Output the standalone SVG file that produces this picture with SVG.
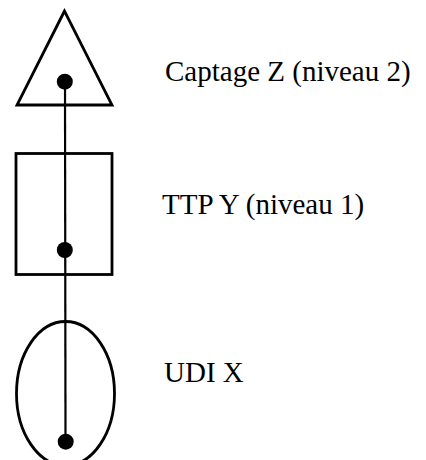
<svg xmlns="http://www.w3.org/2000/svg" width="426" height="460" viewBox="0 0 426 460">
<style>
.shape{fill:none;stroke:#000;stroke-width:2.8}
.conn{stroke:#000;stroke-width:2.2;fill:none}
.dot{fill:#000}
.lbl{font-family:"Liberation Serif","Times New Roman",serif;font-size:29px;fill:#000}
</style>
<rect width="426" height="460" fill="#fff"/>
<g id="captage">
<polygon class="shape" points="64.5,11 17,105 112,105"/>
<text class="lbl" x="165" y="81">Captage Z (niveau 2)</text>
</g>
<g id="ttp">
<rect class="shape" x="16" y="153.5" width="96" height="121"/>
<text class="lbl" x="162" y="214">TTP Y (niveau 1)</text>
</g>
<g id="udi">
<ellipse class="shape" cx="65.5" cy="393.5" rx="49" ry="72"/>
<text class="lbl" x="164" y="382">UDI X</text>
</g>
<g id="connectors">
<line class="conn" x1="65" y1="82" x2="65.5" y2="442"/>
<circle class="dot" cx="64.8" cy="81.7" r="8"/>
<circle class="dot" cx="64.8" cy="250" r="8"/>
<circle class="dot" cx="65.7" cy="441.7" r="8"/>
</g>
</svg>
